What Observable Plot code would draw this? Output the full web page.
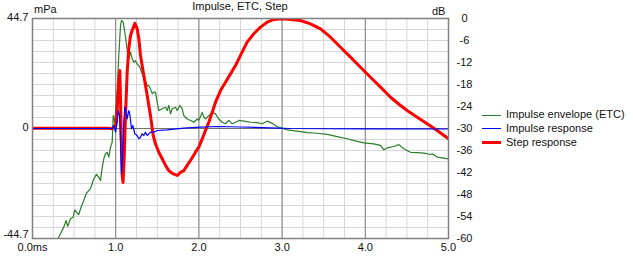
<!DOCTYPE html>
<html>
<head>
<meta charset="utf-8">
<script src="https://cdn.jsdelivr.net/npm/d3@7"></script>
<script src="https://cdn.jsdelivr.net/npm/@observablehq/plot@0.6"></script>
<style>
  html, body { margin: 0; padding: 0; background: #fff; }
  #wrap { position: relative; width: 633px; height: 257px; font-family: "Liberation Sans", Arial, sans-serif; font-size: 11px; color: #111; }
  .ov { position: absolute; white-space: nowrap; line-height: 13px; }
  .sw { display: inline-block; width: 19px; vertical-align: middle; margin-right: 5px; }
</style>
</head>
<body>
<div id="wrap"></div>
<script>
// ---- data ----
const title = "Impulse, ETC, Step";
const leftUnit = "mPa";
const rightUnit = "dB";
const seriesNames = ["Impulse envelope (ETC)", "Impulse response", "Step response"];
const seriesColors = ["#2b7d2b", "#0000ff", "#ff0000"];
const xTicks = [0, 1, 2, 3, 4, 5];
const xTickLabels = ["0.0ms", "1.0", "2.0", "3.0", "4.0", "5.0"];
const leftTicks = [-44.7, 0, 44.7];
const leftTickLabels = ["-44.7", "0", "44.7"];
const dbTicks = [0, -6, -12, -18, -24, -30, -36, -42, -48, -54, -60];

// ETC (dB, right axis)
const etcTime = [0.300,0.316,0.376,0.405,0.424,0.457,0.489,0.508,0.529,0.556,0.577,0.617,0.649,0.697,0.737,0.769,0.797,0.817,0.838,0.857,0.877,0.898,0.917,0.938,0.958,0.970,0.989,1.006,1.022,1.037,1.058,1.070,1.090,1.109,1.124,1.138,1.157,1.178,1.198,1.218,1.238,1.258,1.278,1.298,1.318,1.338,1.358,1.379,1.398,1.418,1.439,1.458,1.478,1.499,1.518,1.559,1.599,1.619,1.638,1.659,1.679,1.719,1.739,1.770,1.799,1.819,1.859,1.899,1.939,1.980,1.999,2.040,2.059,2.079,2.119,2.160,2.200,2.239,2.280,2.320,2.359,2.400,2.440,2.480,2.540,2.620,2.701,2.761,2.821,2.881,2.941,2.981,3.061,3.181,3.302,3.422,3.542,3.662,3.782,3.903,3.982,4.102,4.183,4.223,4.263,4.343,4.403,4.463,4.543,4.624,4.703,4.784,4.804,4.864,4.944,5.000];
const etcDb = [-60.3,-59.6,-56.9,-55.1,-56.7,-54.6,-54.2,-52.2,-52.8,-53.5,-51.9,-49.6,-47.6,-46.4,-43.7,-42.5,-43.3,-44.2,-40.6,-38.3,-36.9,-36.5,-37.8,-35.1,-33.7,-26.5,-28.3,-23.7,-17.4,-10.1,-1.9,-0.5,-1.0,-3.7,-6.0,-8.7,-11.0,-9.2,-11.0,-11.9,-11.5,-12.4,-12.8,-13.7,-15.1,-16.0,-16.9,-18.3,-18.3,-19.2,-20.5,-20.1,-20.1,-22.8,-25.1,-24.6,-24.2,-25.1,-23.7,-26.0,-24.6,-24.2,-25.1,-23.7,-24.6,-26.5,-27.4,-27.8,-28.3,-27.4,-27.8,-25.6,-26.9,-27.4,-26.5,-25.6,-26.0,-27.4,-28.3,-28.7,-27.8,-28.7,-28.3,-27.8,-28.0,-28.3,-28.4,-28.7,-28.0,-28.6,-29.5,-29.8,-30.4,-30.7,-31.1,-31.3,-31.6,-32.2,-32.8,-33.5,-33.9,-34.2,-34.6,-35.8,-35.3,-34.9,-34.4,-35.5,-36.5,-36.6,-36.7,-37.1,-36.9,-37.8,-38.1,-38.3];

// Impulse response (mPa, left axis)
const irTime = [0.000,0.940,0.958,0.977,0.998,1.018,1.030,1.046,1.058,1.070,1.085,1.097,1.109,1.126,1.138,1.157,1.169,1.190,1.206,1.230,1.258,1.278,1.298,1.318,1.338,1.358,1.379,1.418,1.458,1.499,1.619,1.819,2.019,2.220,2.500,2.861,3.101,4.000,5.000];
const irMpa = [0.0,0.0,-0.12,1.22,-1.50,2.56,7.31,5.28,-5.57,-18.3,-10.97,2.56,8.66,6.62,3.94,7.31,5.97,-0.12,1.22,-2.15,-2.84,-4.19,-3.54,-2.15,-2.84,-1.50,-2.84,-1.50,-1.50,-0.81,-0.53,0.12,0.53,0.81,0.61,0.28,0.0,-0.15,-0.2];

// Step response (mPa, left axis)
const stepTime = [0.000,0.900,0.958,0.998,1.018,1.037,1.049,1.058,1.070,1.078,1.088,1.102,1.118,1.138,1.157,1.178,1.198,1.230,1.258,1.278,1.298,1.318,1.338,1.358,1.379,1.398,1.418,1.451,1.478,1.518,1.559,1.599,1.638,1.679,1.739,1.779,1.819,1.859,1.899,1.959,1.999,2.040,2.079,2.119,2.160,2.200,2.260,2.320,2.380,2.440,2.500,2.580,2.660,2.740,2.821,2.900,3.001,3.101,3.221,3.341,3.462,3.582,3.702,3.822,3.942,4.062,4.183,4.303,4.423,4.503,4.624,4.744,4.864,5.000];
const stepMpa = [0.15,0.15,-0.12,1.22,8.0,18.8,23.6,12.1,-8.25,-19.1,-21.9,-12.3,5.28,22.9,32.4,37.8,39.8,42.8,40.5,36.5,29.7,25.6,21.5,17.5,13.4,9.35,5.28,-2.84,-6.22,-9.63,-12.3,-15.0,-17.1,-18.2,-19.1,-17.8,-17.1,-15.0,-13.0,-9.63,-7.6,-4.19,-0.81,2.56,6.62,10.7,15.4,18.8,22.2,25.6,29.7,35.1,38.5,41.2,43.2,44.3,44.6,44.3,43.9,42.5,40.5,37.1,33.0,29.0,24.9,20.8,16.8,12.7,9.35,7.31,4.59,1.91,-0.81,-4.19];

// ---- build ----
const yMax = 44.7;
const dbToY = db => yMax + db * (2 * yMax / 60);
const etc = etcTime.map((t, i) => ({t, v: dbToY(etcDb[i])}));
const ir = irTime.map((t, i) => ({t, v: irMpa[i]}));
const step = stepTime.map((t, i) => ({t, v: stepMpa[i]}));
const minorX = d3.range(0, 5.0001, 0.25);
const minorY = d3.range(0, -60.0001, -3).map(dbToY);
const leftFmt = d => leftTickLabels[leftTicks.indexOf(d)];

const chart = Plot.plot({
  width: 633,
  height: 257,
  marginLeft: 32,
  marginRight: 185,
  marginTop: 18,
  marginBottom: 19,
  style: {fontFamily: '"Liberation Sans", Arial, sans-serif', fontSize: "11px", color: "#111", background: "transparent"},
  x: {domain: [0, 5]},
  y: {domain: [-yMax, yMax]},
  marks: [
    Plot.gridX(minorX, {stroke: "#d6d6d6", strokeOpacity: 1}),
    Plot.gridY(minorY, {stroke: "#d6d6d6", strokeOpacity: 1}),
    Plot.gridX([1, 2, 3, 4], {stroke: "#808080", strokeOpacity: 1}),
    Plot.gridY([0], {stroke: "#707070", strokeOpacity: 1}),
    Plot.line(etc, {x: "t", y: "v", stroke: seriesColors[0], strokeWidth: 1.2, clip: true}),
    Plot.line(step, {x: "t", y: "v", stroke: seriesColors[2], strokeWidth: 3, clip: true}),
    Plot.line(ir, {x: "t", y: "v", stroke: seriesColors[1], strokeWidth: 1.2, clip: true}),
    Plot.frame({stroke: "#808080", strokeWidth: 1.5}),
    Plot.axisX(xTicks, {tickSize: 0, tickPadding: 5, tickFormat: d => xTickLabels[xTicks.indexOf(d)], label: null, fill: "#111"}),
    Plot.axisY(leftTicks.slice(1), {anchor: "left", tickSize: 0, tickPadding: 4, dy: -1.5, tickFormat: leftFmt, label: null, fill: "#111"}),
    Plot.axisY(leftTicks.slice(0, 1), {anchor: "left", tickSize: 0, tickPadding: 4, dy: -4, tickFormat: leftFmt, label: null, fill: "#111"}),
    Plot.axisY(dbTicks.map(dbToY), {anchor: "right", tickSize: 0, tickPadding: 16, textAnchor: "middle", tickFormat: (d, i) => String(dbTicks[i]), label: null, fill: "#111"})
  ]
});

const wrap = document.getElementById("wrap");
chart.style.position = "absolute";
chart.style.left = "0px";
chart.style.top = "0px";
wrap.appendChild(chart);

function ov(text, css) {
  const d = document.createElement("div");
  d.className = "ov";
  d.textContent = text;
  Object.assign(d.style, css);
  wrap.appendChild(d);
  return d;
}
ov(title, {left: "0px", width: "480px", textAlign: "center", top: "0px"});
ov(leftUnit, {left: "34px", top: "3px"});
ov(rightUnit, {left: "432px", top: "5px"});

// legend
const legend = document.createElement("div");
legend.className = "ov";
legend.style.left = "482px";
legend.style.top = "108px";
seriesNames.forEach((name, i) => {
  const row = document.createElement("div");
  row.style.height = "13.8px";
  row.style.lineHeight = "13.8px";
  const sw = document.createElement("span");
  sw.className = "sw";
  sw.style.borderTop = (i === 2 ? 3 : 1) + "px solid " + seriesColors[i];
  row.appendChild(sw);
  row.appendChild(document.createTextNode(name));
  legend.appendChild(row);
});
wrap.appendChild(legend);
</script>
</body>
</html>
